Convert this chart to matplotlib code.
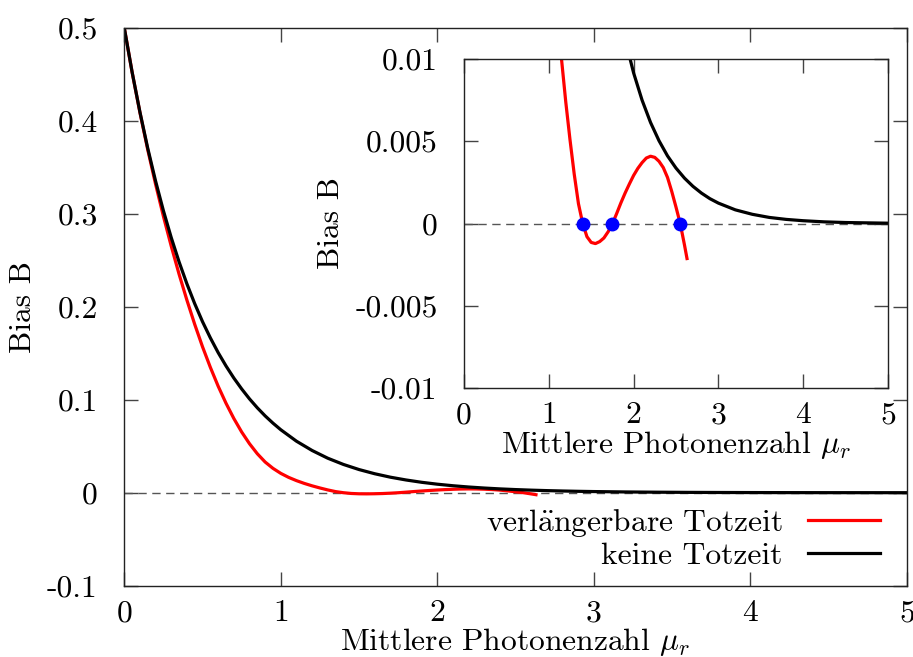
import numpy as np
import matplotlib
matplotlib.use('Agg')
import matplotlib.pyplot as plt

plt.rcParams['font.family'] = ['cmr10', 'DejaVu Serif']
plt.rcParams['mathtext.fontset'] = 'cm'
plt.rcParams['axes.unicode_minus'] = False

# keine Totzeit (black)
mu_black = [0.0, 0.05, 0.1, 0.15, 0.2, 0.25, 0.3, 0.35, 0.4, 0.45, 0.5, 0.55, 0.6, 0.65,
            0.7, 0.75, 0.8, 0.85, 0.9, 0.95, 1.0, 1.1, 1.2, 1.3, 1.4, 1.5, 1.6, 1.7, 1.8,
            1.9, 2.0, 2.1, 2.2, 2.3, 2.4, 2.5, 2.6, 2.7, 2.8, 2.9, 3.0, 3.2, 3.4, 3.6,
            3.8, 4.0, 4.25, 4.5, 4.75, 5.0]
bias_black = [0.5, 0.4524, 0.4094, 0.3704, 0.3352, 0.3033, 0.2744, 0.2483, 0.2247, 0.2033,
              0.1839, 0.1665, 0.1506, 0.1363, 0.1233, 0.1116, 0.1009, 0.0913, 0.0826, 0.0748,
              0.0677, 0.0554, 0.0454, 0.0371, 0.0304, 0.0249, 0.0204, 0.0167, 0.0137, 0.0112,
              0.00916, 0.0075, 0.00614, 0.00503, 0.00411, 0.00337, 0.00276, 0.00226, 0.00185,
              0.00151, 0.00124, 0.00083, 0.00056, 0.00037, 0.00025, 0.00017, 0.0001, 0.00006,
              0.00004, 0.00002]

# verlaengerbare Totzeit (red)
mu_red = [0.0, 0.05, 0.1, 0.15, 0.2, 0.25, 0.3, 0.35, 0.4, 0.45, 0.5, 0.55, 0.6, 0.65, 0.7,
          0.75, 0.8, 0.85, 0.9, 0.95, 1.0, 1.05, 1.1, 1.15, 1.2, 1.25, 1.3, 1.35, 1.4, 1.45,
          1.5, 1.55, 1.6, 1.65, 1.7, 1.75, 1.8, 1.85, 1.9, 1.95, 2.0, 2.05, 2.1, 2.15, 2.2,
          2.25, 2.3, 2.35, 2.4, 2.45, 2.5, 2.55, 2.6, 2.63]
bias_red = [0.5, 0.4523, 0.4089, 0.3688, 0.3318, 0.2973, 0.2652, 0.2351, 0.2072, 0.1811,
            0.1569, 0.1348, 0.1145, 0.0962, 0.0798, 0.0653, 0.0527, 0.0419, 0.033, 0.0262,
            0.0208, 0.0165, 0.013, 0.01, 0.0074, 0.0051, 0.003, 0.0012, 0.0,
            -0.0008, -0.00115, -0.00122, -0.0011, -0.00088, -0.0005, -0.00002, 0.0006,
            0.00125, 0.00185, 0.0024, 0.00292, 0.00335, 0.0037, 0.00398, 0.00409, 0.00402,
            0.00378, 0.0034, 0.0028, 0.00195, 0.001, 0.0, -0.0013, -0.00213]

# Nullstellen
mu_roots = [1.40, 1.75, 2.55]
bias_roots = [0.0, 0.0, 0.0]

main_yticks = [-0.1, 0, 0.1, 0.2, 0.3, 0.4, 0.5]
main_ylabels = ['-0.1', '0', '0.1', '0.2', '0.3', '0.4', '0.5']
inset_yticks = [-0.01, -0.005, 0, 0.005, 0.01]
inset_ylabels = ['-0.01', '-0.005', '0', '0.005', '0.01']
xticks = [0, 1, 2, 3, 4, 5]

fs = 22.7
tick_col = '#444444'


def style_axes(ax):
    ax.tick_params(direction='in', length=10, width=1, color=tick_col, labelsize=fs,
                   top=True, right=True)
    ax.tick_params(axis='y', pad=19)
    ax.tick_params(axis='x', pad=10)
    for s in ax.spines.values():
        s.set_linewidth(1)
        s.set_color('#222222')


fig = plt.figure(figsize=(9.13, 6.57), dpi=100)
ax = fig.add_axes([0.1361, 0.1085, 0.8573, 0.8493])

ax.axhline(0, color='#555555', linestyle=(0, (6, 4)), linewidth=1)
ax.plot(mu_red, bias_red, color='red', linewidth=2.3, label='verl$\\mathrm{\\ddot{a}}$ngerbare Totzeit')
ax.plot(mu_black, bias_black, color='black', linewidth=2.3, label='keine Totzeit')
ax.set_xlim(0, 5)
ax.set_ylim(-0.1, 0.5)
ax.set_xticks(xticks)
ax.set_xticklabels([str(t) for t in xticks])
ax.set_yticks(main_yticks)
ax.set_yticklabels(main_ylabels)
style_axes(ax)
ax.set_xlabel('Mittlere Photonenzahl $\\mu_r$', fontsize=fs, labelpad=-1)
ax.set_ylabel('Bias B', fontsize=fs, labelpad=7.5)
ax.legend(loc='upper right', bbox_to_anchor=(0.966, 0.1416), frameon=False, fontsize=fs,
          markerfirst=False, handlelength=2.3, handletextpad=0.8, labelspacing=0.1,
          borderpad=0, borderaxespad=0)

# Inset
ins = fig.add_axes([0.5082, 0.4094, 0.4644, 0.5008])
ins.axhline(0, color='#555555', linestyle=(0, (6, 4)), linewidth=1)
ins.plot(mu_red, bias_red, color='red', linewidth=2.3)
ins.plot(mu_black, bias_black, color='black', linewidth=2.3)
ins.plot(mu_roots, bias_roots, 'o', color='blue', markersize=9, zorder=5)
ins.set_xlim(0, 5)
ins.set_ylim(-0.01, 0.01)
ins.set_xticks(xticks)
ins.set_xticklabels([str(t) for t in xticks])
ins.set_yticks(inset_yticks)
ins.set_yticklabels(inset_ylabels)
style_axes(ins)
ins.set_xlabel('Mittlere Photonenzahl $\\mu_r$', fontsize=fs, labelpad=0)
ins.set_ylabel('Bias B', fontsize=fs, labelpad=7.5)

fig.savefig('out.png', dpi=100)
